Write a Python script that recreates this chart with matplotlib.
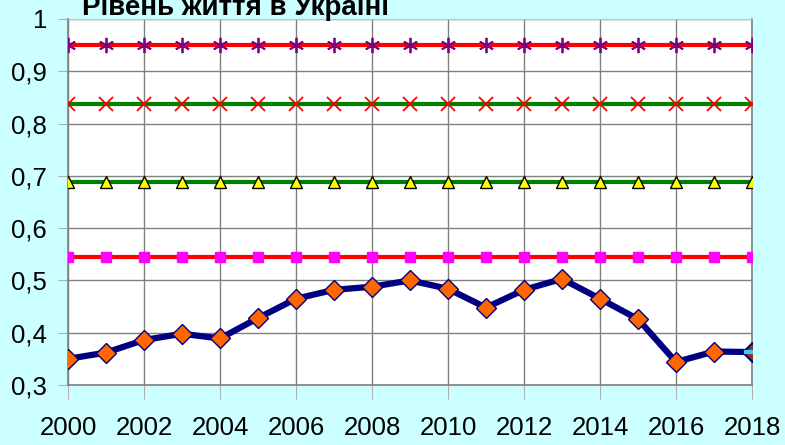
import matplotlib

matplotlib.use("Agg")
import matplotlib.pyplot as plt

# data
years = list(range(2000, 2019))
living_level = [0.350, 0.362, 0.386, 0.398, 0.389, 0.428, 0.465, 0.482, 0.488, 0.500,
                0.484, 0.448, 0.482, 0.503, 0.465, 0.426, 0.344, 0.364, 0.363]
level_top = 0.95
level_high = 0.838
level_mid = 0.688
level_low = 0.544
last_point = [0.363]

x_ticks = list(range(2000, 2019, 2))
y_ticks = [0.3, 0.4, 0.5, 0.6, 0.7, 0.8, 0.9, 1.0]
y_labels = ["0,3", "0,4", "0,5", "0,6", "0,7", "0,8", "0,9", "1"]
title = "Рівень життя в Україні"

plt.rcParams["font.family"] = ["Liberation Sans", "DejaVu Sans"]

BG = "#ccffff"
fig = plt.figure(figsize=(7.85, 4.45), dpi=100, facecolor=BG)
ax = fig.add_axes([68 / 785, 1 - 385 / 445, (752 - 68) / 785, (385 - 19) / 445])
ax.set_facecolor("white")

n = len(years)
ax.plot(years, [level_top] * n, color="#ff0000", lw=3, marker=(6, 2, 0),
        ms=11, mec="#800080", mew=1.3, zorder=3)
ax.plot(years, [level_high] * n, color="#008000", lw=3, marker="x",
        ms=10, mec="#ff0000", mew=1.3, zorder=3)
ax.plot(years, [level_mid] * n, color="#008000", lw=3, marker="^",
        ms=8, mfc="#ffff00", mec="black", mew=1, zorder=3)
ax.plot(years, [level_low] * n, color="#ff0000", lw=3, marker="s",
        ms=7.5, mfc="#ff00ff", mec="#ff00ff", zorder=3)
ax.plot(years, living_level, color="#000080", lw=4.5, marker="D",
        ms=10, mfc="#ff6600", mec="#000080", mew=1, zorder=4)
ax.plot(years[-1:], last_point, ls="none", marker="D", ms=9,
        mfc="#993300", mec="#000080", zorder=5)
ax.plot(years[-1:], last_point, ls="none", marker="_", ms=12,
        mec="#33ccff", mew=3, zorder=6)

ax.set_xlim(2000, 2018)
ax.set_ylim(0.3, 1.0)
ax.set_xticks(x_ticks)
ax.set_yticks(y_ticks)
ax.set_yticklabels(y_labels)
ax.grid(True, color="#808080", lw=1)
ax.set_axisbelow(True)
ax.tick_params(axis="x", length=10, color="#b0b0b0", pad=12, labelsize=18.5)
ax.tick_params(axis="y", length=7, color="#b0b0b0", pad=8, labelsize=18.5)
for side in ["left", "bottom", "right"]:
    ax.spines[side].set_color("#808080")
    ax.spines[side].set_linewidth(1.2)
ax.spines["top"].set_color("#c0c0c0")

fig.text(236 / 785, 1 - 15 / 445, title, ha="center", va="baseline",
         fontsize=20, fontweight="bold")

fig.savefig("out.png", dpi=100, facecolor=BG)
